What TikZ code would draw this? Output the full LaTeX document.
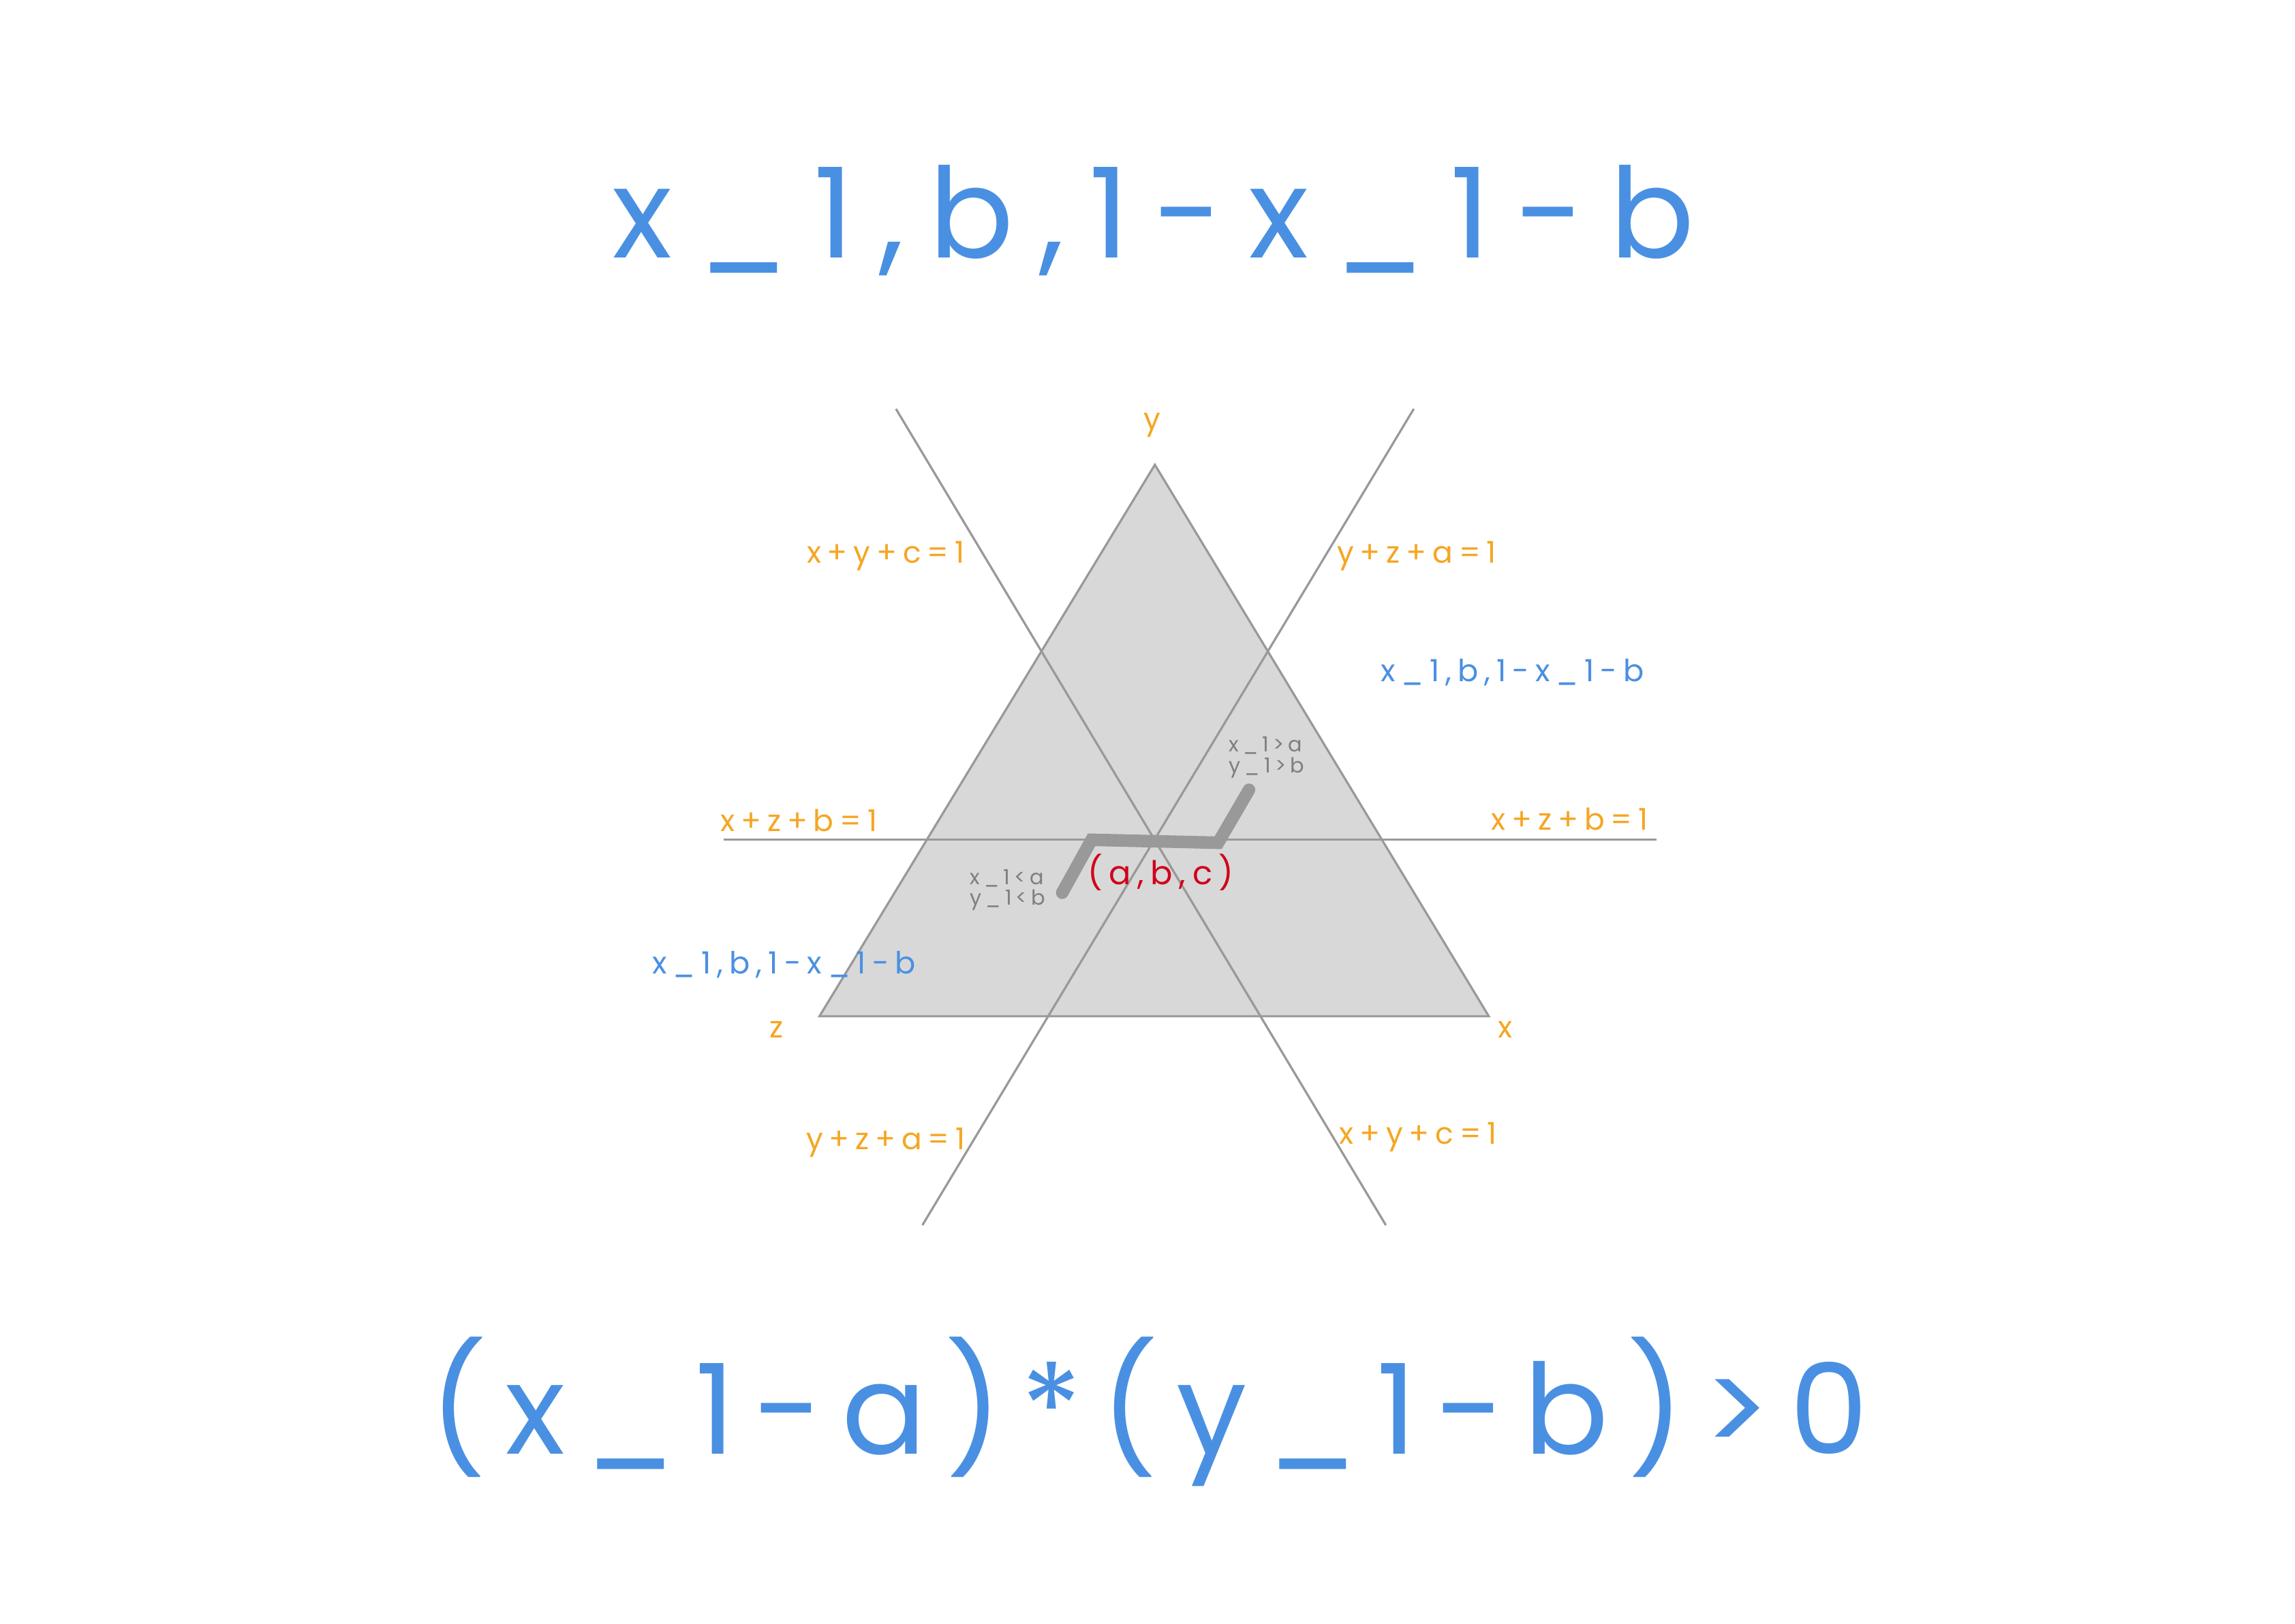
\documentclass[tikz,border=0pt]{standalone}
\usepackage{fontspec}
\setmainfont{Poppins}[LetterSpace=20]
\newfontfamily\tightfont{Poppins}[LetterSpace=15]
\definecolor{lineg}{HTML}{999999}
\definecolor{fillg}{HTML}{D8D8D8}
\definecolor{orng}{HTML}{F5A623}
\definecolor{blu}{HTML}{4A90E2}
\definecolor{redc}{HTML}{D0021B}
\definecolor{txtg}{HTML}{7F7F7F}
\begin{document}
\begin{tikzpicture}[x=0.5397pt,y=-0.5397pt,
  thin line/.style={draw=lineg,line width=0.8pt},
  thick path/.style={draw=lineg,line width=4.6pt,line cap=round,line join=miter},
  olab/.style={text=orng,font=\fontsize{11}{13}\selectfont,inner sep=0pt},
  blab/.style={text=blu,font=\fontsize{11.2}{13}\selectfont,inner sep=0pt},
  glab/.style={text=txtg,font=\fontsize{7.6}{7.6}\selectfont,inner sep=0pt,align=left},
  big/.style={text=blu,font=\fontsize{46}{50}\selectfont,inner sep=0pt}]
\useasboundingbox[fill=white] (0,0) rectangle (1560,1104);
% triangle
\coordinate (Y) at (785,316);
\coordinate (Z) at (557,691);
\coordinate (X) at (1012,691);
\filldraw[fill=fillg,draw=lineg,line width=0.8pt] (Y) -- (X) -- (Z) -- cycle;
% lines
\coordinate (l1a) at (609,278); \coordinate (l1b) at (942,833);
\coordinate (l2a) at (961,278); \coordinate (l2b) at (627,833);
\coordinate (l3a) at (492,571); \coordinate (l3b) at (1126,571);
\draw[thin line] (l1a) -- (l1b);
\draw[thin line] (l2a) -- (l2b);
\draw[thin line] (l3a) -- (l3b);
% thick polylines
\coordinate (O) at (785,572);
\coordinate (p1) at (722,607); \coordinate (p2) at (742,571);
\coordinate (q1) at (828,573); \coordinate (q2) at (849,537);
\draw[thick path] (p1) -- (p2) -- (O);
\draw[thick path] (O) -- (q1) -- (q2);
% labels
\node[big] (title) at (784,150) {x\_1,b,1-x\_1-b};
\node[big,font=\fontsize{46}{50}\tightfont] (formula) at (781,960) {(x\_1-a)*(y\_1-b)>0};
\node[olab] (ly) at (783,289) {y};
\node[olab] (lz) at (528,700) {z};
\node[olab] (lx) at (1023,700) {x};
\node[olab] (e1) at (602,378) {x+y+c=1};
\node[olab] (e2) at (963,378) {y+z+a=1};
\node[olab] (e3) at (543,558) {x+z+b=1};
\node[olab] (e4) at (1067,557) {x+z+b=1};
\node[olab] (e5) at (602,777) {y+z+a=1};
\node[olab] (e6) at (964,773) {x+y+c=1};
\node[blab] (b1) at (1028,457) {x\_1,b,1-x\_1-b};
\node[blab] (b2) at (533,656) {x\_1,b,1-x\_1-b};
\node[glab] (g1) at (861,515) {x\_1>a\\y\_1>b};
\node[glab] (g2) at (685,605) {x\_1<a\\y\_1<b};
\node[text=redc,font=\fontsize{12}{14}\selectfont,inner sep=0pt] (abc) at (789,593) {(a,b,c)};
\end{tikzpicture}
\end{document}
